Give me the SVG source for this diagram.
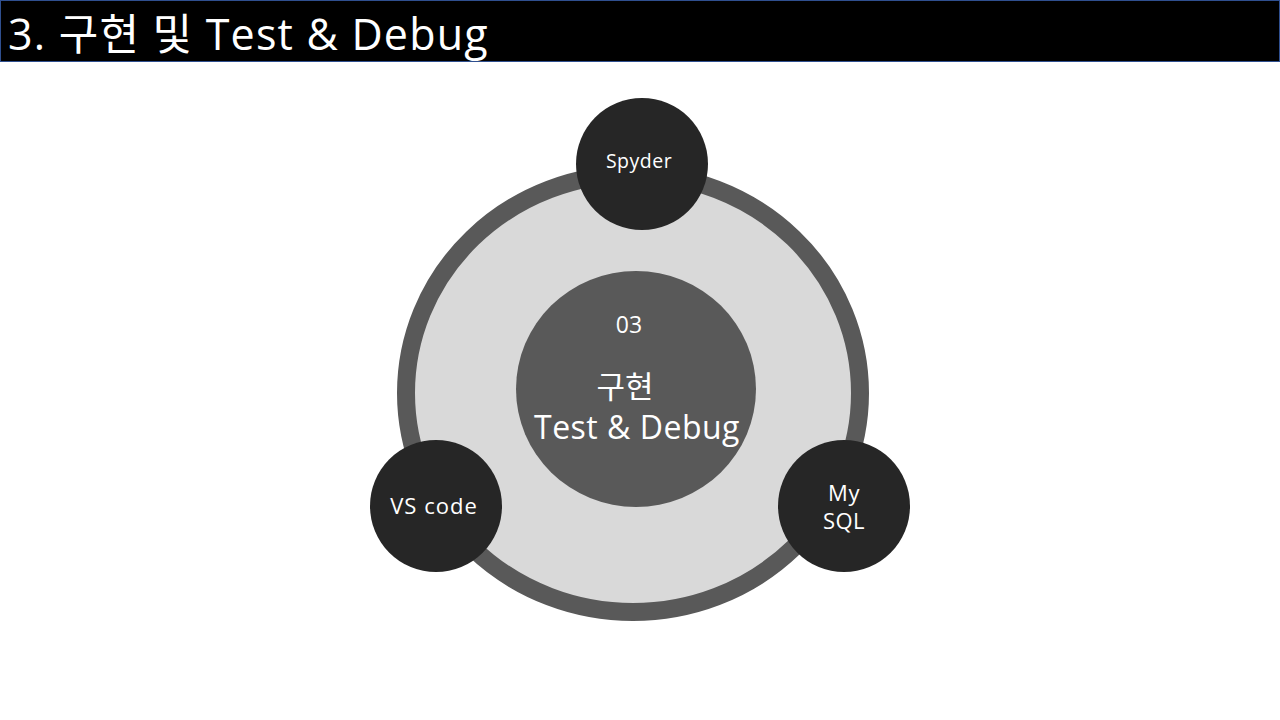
<svg xmlns="http://www.w3.org/2000/svg" width="1280" height="720" viewBox="0 0 1280 720">
<style>
.t{font-family:"Open Sans","Noto Sans CJK KR",sans-serif;fill:#fff;text-anchor:middle}
.node{fill:#262626}
</style>
<rect width="1280" height="720" fill="#fff"/>
<g id="header">
<rect x="0.5" y="0.5" width="1279" height="61" fill="#000" stroke="#2f4f8f" stroke-width="1"/>
<text x="8" y="50" font-family="'Open Sans','Noto Sans CJK KR',sans-serif" font-size="43" letter-spacing="1.2" fill="#fff">3. 구현 및 Test &amp; Debug</text>
</g>
<g id="connectors"></g>
<g id="ring">
<ellipse cx="633" cy="393" rx="227" ry="219" fill="#d9d9d9" stroke="#595959" stroke-width="18"/>
</g>
<g id="center">
<ellipse cx="636" cy="389" rx="120" ry="118" fill="#595959"/>
<text class="t" x="629" y="333" font-size="23">03</text>
<text class="t" x="625" y="398" font-size="31">구현</text>
<text class="t" x="637" y="439" font-size="32" letter-spacing="0.5">Test &amp; Debug</text>
</g>
<g id="spyder">
<circle class="node" cx="642" cy="164" r="66"/>
<text class="t" x="639" y="168" font-size="19.5" letter-spacing="0.5">Spyder</text>
</g>
<g id="vscode">
<circle class="node" cx="436" cy="506" r="66"/>
<text class="t" x="434" y="514" font-size="22" letter-spacing="1">VS code</text>
</g>
<g id="mysql">
<circle class="node" cx="844" cy="506" r="66"/>
<text class="t" x="844" y="501" font-size="22" letter-spacing="0.5">My</text>
<text class="t" x="844" y="529" font-size="22" letter-spacing="0.5">SQL</text>
</g>
</svg>
